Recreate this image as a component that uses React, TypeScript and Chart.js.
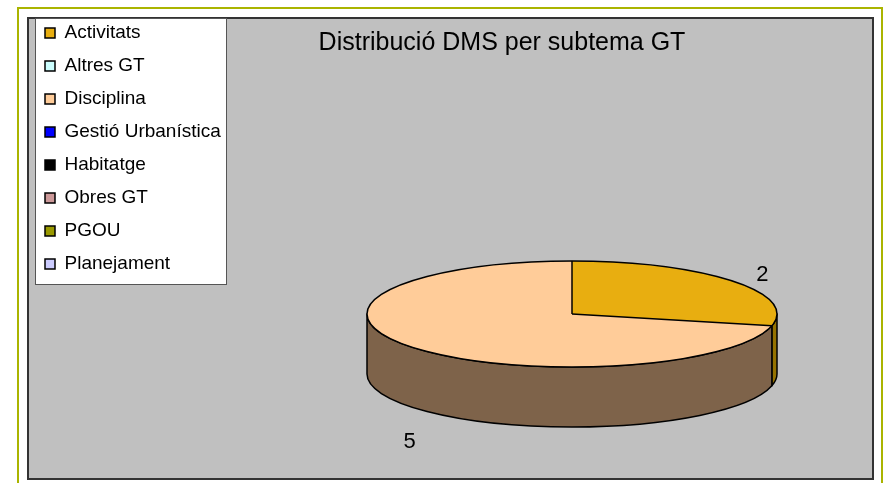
import React, { useEffect, useRef } from "react";
import { Chart, registerables } from "chart.js";

Chart.register(...registerables);

// ---- data ----
const chartTitle = "Distribució DMS per subtema GT";
const categories = [
  "Activitats",
  "Altres GT",
  "Disciplina",
  "Gestió Urbanística",
  "Habitatge",
  "Obres GT",
  "PGOU",
  "Planejament",
];
const values = [2, 0, 5, 0, 0, 0, 0, 0];

// ---- styles ----
const topColors = ["#E8AE10", "#CCFFFF", "#FFCC99", "#0000FF", "#000000", "#CC9999", "#999900", "#CCCCFF"];
const sideColors = ["#957200", "#6E8C8C", "#7E634A", "#000099", "#000000", "#7A5C5C", "#5C5C00", "#7A7A99"];

const FONT = "'Liberation Sans', Arial, sans-serif";

// 3D pie projection
const CX = 572;
const CY = 314;
const RX = 205;
const RY = 53;
const DEPTH = 60;

const pie3d = {
  id: "pie3d",
  afterLayout(chart: any) {
    const lg = chart.legend;
    if (lg) {
      const w = lg.width;
      const h = lg.height;
      lg.left = 31;
      lg.top = 9.5;
      lg.right = lg.left + w;
      lg.bottom = lg.top + h;
    }
    const t = chart.titleBlock;
    if (t) {
      const h = t.height;
      t.left = 302;
      t.right = 702;
      t.top = 28;
      t.bottom = 28 + h;
    }
  },
  beforeDraw(chart: any) {
    const ctx = chart.ctx;
    ctx.save();
    ctx.fillStyle = "#FFFFFF";
    ctx.fillRect(0, 0, chart.width, chart.height);
    // outer frame
    ctx.strokeStyle = "#AAB400";
    ctx.lineWidth = 2;
    ctx.strokeRect(18, 8, 864, 490);
    // plot area
    ctx.fillStyle = "#C0C0C0";
    ctx.fillRect(28, 18, 845, 461);
    ctx.strokeStyle = "#333333";
    ctx.lineWidth = 2;
    ctx.strokeRect(28, 18, 845, 461);
    // legend box
    ctx.fillStyle = "#FFFFFF";
    ctx.fillRect(35, 18, 191, 266);
    ctx.strokeStyle = "#555555";
    ctx.lineWidth = 1;
    ctx.strokeRect(35.5, 18.5, 191, 266);
    ctx.restore();
  },
  beforeDatasetsDraw(chart: any) {
    const ctx = chart.ctx;
    const meta = chart.getDatasetMeta(0);
    const ds = chart.data.datasets[0];
    ctx.save();
    ctx.lineWidth = 1.5;
    ctx.strokeStyle = "#000000";
    ctx.lineJoin = "round";
    meta.data.forEach((arc: any, i: number) => {
      if (!(ds.data[i] > 0)) return;
      const s = arc.startAngle;
      const e = arc.endAngle;
      const ranges = [
        [0, Math.PI],
        [2 * Math.PI, 3 * Math.PI],
      ];
      ranges.forEach(([lo, hi]) => {
        const a0 = Math.max(s, lo);
        const a1 = Math.min(e, hi);
        if (a1 <= a0) return;
        ctx.beginPath();
        ctx.ellipse(CX, CY, RX, RY, 0, a0, a1, false);
        ctx.lineTo(CX + RX * Math.cos(a1), CY + RY * Math.sin(a1) + DEPTH);
        ctx.ellipse(CX, CY + DEPTH, RX, RY, 0, a1, a0, true);
        ctx.closePath();
        ctx.fillStyle = sideColors[i];
        ctx.fill();
        ctx.stroke();
      });
    });
    ctx.restore();

    // squash the library's circle into the ellipse of the top face
    const first = meta.data[0];
    const r = first.outerRadius;
    ctx.save();
    ctx.translate(CX, CY);
    ctx.scale(RX / r, RY / r);
    ctx.translate(-first.x, -first.y);
  },
  afterDatasetsDraw(chart: any) {
    const ctx = chart.ctx;
    ctx.restore();
    const meta = chart.getDatasetMeta(0);
    const ds = chart.data.datasets[0];
    ctx.save();
    ctx.strokeStyle = "#000000";
    ctx.lineWidth = 1.5;
    ctx.lineJoin = "round";
    ctx.beginPath();
    ctx.ellipse(CX, CY, RX, RY, 0, 0, Math.PI * 2);
    ctx.stroke();
    meta.data.forEach((arc: any, i: number) => {
      if (!(ds.data[i] > 0)) return;
      const a = arc.startAngle;
      ctx.beginPath();
      ctx.moveTo(CX, CY);
      ctx.lineTo(CX + RX * Math.cos(a), CY + RY * Math.sin(a));
      ctx.stroke();
    });
    // value labels
    ctx.fillStyle = "#000000";
    ctx.font = `22px ${FONT}`;
    ctx.textAlign = "center";
    ctx.textBaseline = "middle";
    meta.data.forEach((arc: any, i: number) => {
      const v = ds.data[i];
      if (!(v > 0)) return;
      const mid = (arc.startAngle + arc.endAngle) / 2;
      const sn = Math.sin(mid);
      const x = CX + RX * 1.1 * Math.cos(mid) + 14;
      const y = CY + (RY + 10) * sn + (sn > 0 ? DEPTH + 29 : 0);
      ctx.fillText(String(v), x, y);
    });
    ctx.restore();
  },
};

export default function App() {
  const ref = useRef<HTMLCanvasElement | null>(null);

  useEffect(() => {
    document.body.style.margin = "0";
    const canvas = ref.current;
    if (!canvas) return;
    const chart = new Chart(canvas, {
      type: "pie",
      data: {
        labels: categories,
        datasets: [
          {
            data: values,
            backgroundColor: topColors,
            borderWidth: 0,
            hoverOffset: 0,
          },
        ],
      },
      options: {
        animation: false,
        responsive: false,
        events: [],
        layout: { padding: { top: 20, bottom: 20, left: 10, right: 60 } },
        plugins: {
          tooltip: { enabled: false },
          title: {
            display: true,
            text: chartTitle,
            color: "#000000",
            padding: 0,
            font: { family: FONT, size: 25, weight: "normal", lineHeight: 1.2 },
          },
          legend: {
            display: true,
            position: "left",
            align: "start",
            labels: {
              boxWidth: 10,
              boxHeight: 10,
              padding: 14,
              color: "#000000",
              font: { family: FONT, size: 19 },
              generateLabels: (chart: any) =>
                chart.data.labels.map((lab: string, i: number) => ({
                  text: lab,
                  fillStyle: topColors[i],
                  strokeStyle: "#000000",
                  lineWidth: 1.5,
                  fontColor: "#000000",
                  hidden: false,
                  index: i,
                })),
            },
          },
        },
      },
      plugins: [pie3d],
    });
    return () => chart.destroy();
  }, []);

  return (
    <div style={{ width: 885, height: 483, position: "relative" }}>
      <canvas ref={ref} width={885} height={483} style={{ display: "block" }} />
    </div>
  );
}
